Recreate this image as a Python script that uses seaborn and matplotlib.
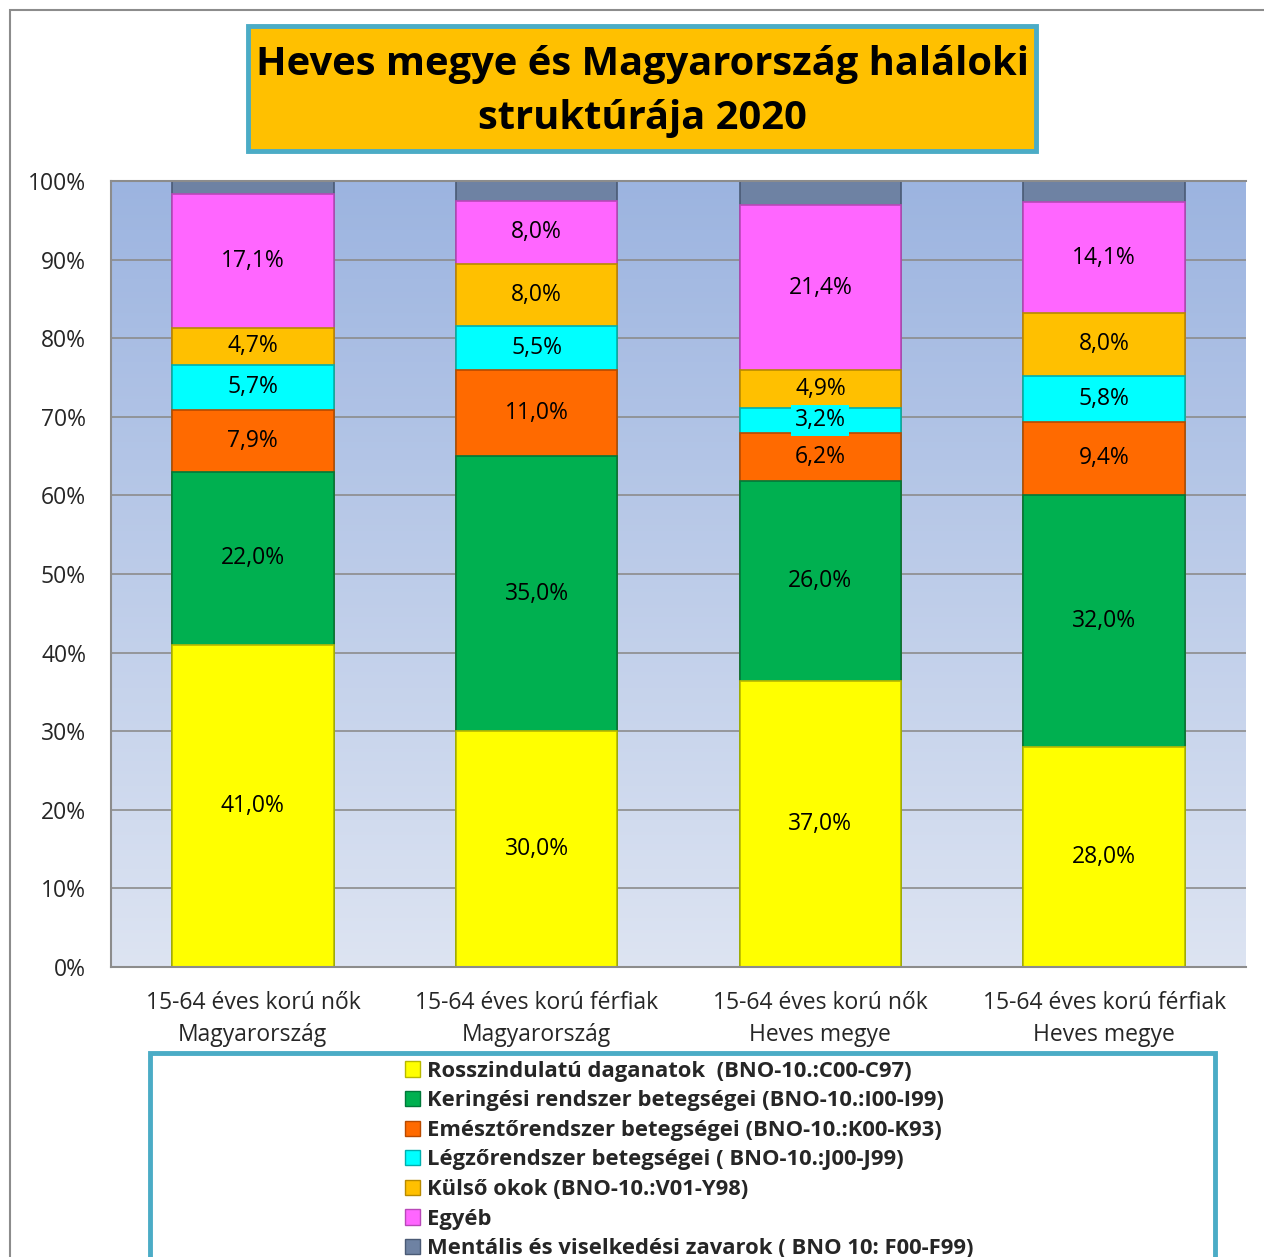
import matplotlib
matplotlib.use('Agg')
import matplotlib.pyplot as plt
import matplotlib.patches as mpatches
import numpy as np
import pandas as pd
import seaborn as sns

## Categories and series (values as labelled, the chart is 100% stacked)
CATEGORIES = ['15-64 éves korú nők\nMagyarország', '15-64 éves korú férfiak\nMagyarország',
              '15-64 éves korú nők\nHeves megye', '15-64 éves korú férfiak\nHeves megye']
SERIES = ['Rosszindulatú daganatok  (BNO-10.:C00-C97)',
          'Keringési rendszer betegségei (BNO-10.:I00-I99)',
          'Emésztőrendszer betegségei (BNO-10.:K00-K93)',
          'Légzőrendszer betegségei ( BNO-10.:J00-J99)',
          'Külső okok (BNO-10.:V01-Y98)',
          'Egyéb',
          'Mentális és viselkedési zavarok ( BNO 10: F00-F99)']
daganat = [41.0, 30.0, 37.0, 28.0]
keringes = [22.0, 35.0, 26.0, 32.0]
emeszto = [7.9, 11.0, 6.2, 9.4]
legzo = [5.7, 5.5, 3.2, 5.8]
kulso = [4.7, 8.0, 4.9, 8.0]
egyeb = [17.1, 8.0, 21.4, 14.1]
mentalis = [1.6, 2.5, 3.1, 2.7]
SHOW_LABEL = [True, True, True, True, True, True, False]

COLORS = ['#FFFF00', '#00B050', '#FF6A00', '#00FFFF', '#FFC000', '#FF66FF', '#6E82A3']
EDGES = ['#B8B800', '#00783A', '#B84A00', '#00AFAF', '#B88A00', '#B848B8', '#4A5A75']

TITLE = 'Heves megye és Magyarország haláloki\nstruktúrája 2020'

W, H = 1264, 1257

values = np.array([daganat, keringes, emeszto, legzo, kulso, egyeb, mentalis])
shares = values / values.sum(axis=0) * 100
tops = np.cumsum(shares, axis=0)
bottoms = tops - shares

sns.set_theme(style='white')
plt.rcParams['font.family'] = ['Open Sans', 'DejaVu Sans']

fig = plt.figure(figsize=(W / 100, H / 100), dpi=100)

## Outer frame
fig.add_artist(mpatches.Rectangle((10 / W, -0.1), 1.2, 1 - 10 / H + 0.1, transform=fig.transFigure,
                                  fill=False, edgecolor='#8C8C8C', lw=1.5))

ax = fig.add_axes([111 / W, 1 - 967 / H, 1135 / W, 786 / H])

## Gradient plot area background
grad = np.linspace(0, 1, 256).reshape(-1, 1)
cmap = matplotlib.colors.LinearSegmentedColormap.from_list('bg', ['#DDE4F2', '#9CB4E0'])
ax.imshow(grad, aspect='auto', cmap=cmap, origin='lower', extent=(-0.5, 3.5, 0, 100), zorder=0)

for y in range(10, 100, 10):
    ax.axhline(y, color='#8C8C8C', lw=1.2, zorder=1)

## Stacked bars: draw cumulative tops, largest first
for i in range(len(SERIES) - 1, -1, -1):
    df = pd.DataFrame({'cat': CATEGORIES, 'val': tops[i]})
    sns.barplot(data=df, x='cat', y='val', color=COLORS[i], width=0.57, ax=ax,
                edgecolor=EDGES[i], linewidth=1.2, saturation=1, zorder=2)

for i in range(len(SERIES)):
    if not SHOW_LABEL[i]:
        continue
    for j in range(len(CATEGORIES)):
        txt = f'{values[i, j]:.1f}%'.replace('.', ',')
        yc = bottoms[i, j] + shares[i, j] / 2
        kw = {}
        if COLORS[i] == '#00FFFF':
            kw['bbox'] = dict(boxstyle='square,pad=0.15', facecolor='#00FFFF', edgecolor='none')
        ax.text(j, yc, txt, ha='center', va='center', fontsize=16.5, color='black', zorder=5, **kw)

ax.set_xlim(-0.5, 3.5)
ax.set_ylim(0, 100)
ax.set_yticks(range(0, 101, 10))
ax.set_yticklabels([f'{t}%' for t in range(0, 101, 10)])
ax.set_xlabel('')
ax.set_ylabel('')
ax.tick_params(axis='y', labelsize=16.5, pad=18, length=0)
ax.tick_params(axis='x', labelsize=16.5, pad=17, length=0)
for lbl in ax.get_xticklabels():
    lbl.set_linespacing(1.45)
for side in ['left', 'bottom', 'top']:
    ax.spines[side].set_color('#8C8C8C')
    ax.spines[side].set_linewidth(1.5)
ax.spines['right'].set_visible(False)

## Title box
fig.add_artist(mpatches.Rectangle((248 / W, 1 - 151 / H), 788 / W, 125 / H, transform=fig.transFigure,
                                  facecolor='#FFC000', edgecolor='#4BACC6', lw=3.5))
fig.text(642 / W, 1 - 91 / H, TITLE, ha='center', va='center', fontsize=28.7, fontweight='bold',
         linespacing=1.5, color='black')

## Legend box
fig.add_artist(mpatches.Rectangle((150 / W, -0.05), 1065 / W, 0.05 + 1 - 1053 / H, transform=fig.transFigure,
                                  facecolor='white', edgecolor='#4BACC6', lw=3.5))
handles = [mpatches.Patch(facecolor=COLORS[i], edgecolor=EDGES[i], label=SERIES[i]) for i in range(len(SERIES))]
leg = fig.legend(handles=handles, loc='upper left', bbox_to_anchor=(396 / W, 1 - 1052 / H),
                 frameon=False, prop={'size': 15.8, 'weight': 'bold'}, handlelength=0.7,
                 handleheight=0.7, handletextpad=0.3, labelspacing=0.39, borderaxespad=0)

fig.savefig('out.png', dpi=100)
